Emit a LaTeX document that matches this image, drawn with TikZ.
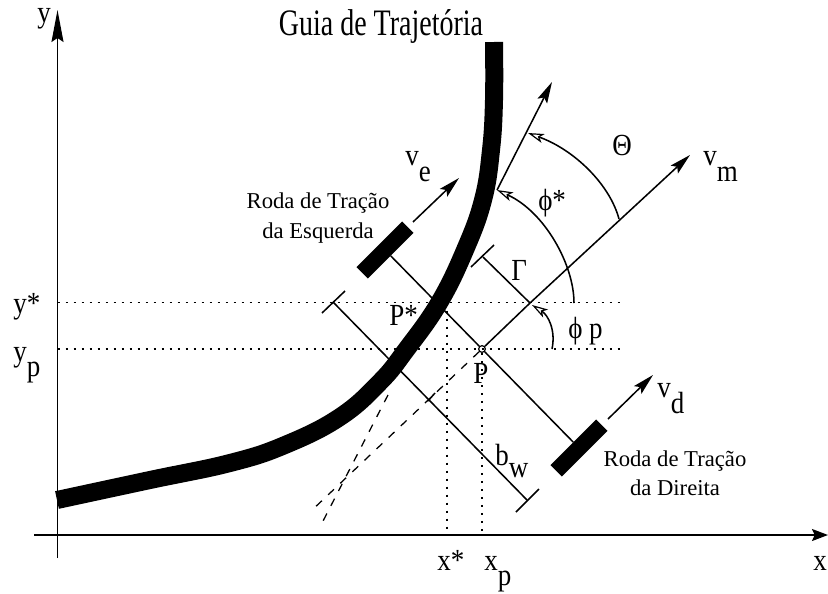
\documentclass[tikz,border=0pt]{standalone}
\usepackage{fontspec}
\setmainfont{Liberation Serif}
\newfontfamily\ttlfont[FakeStretch=0.75]{Liberation Serif}
\newfontfamily\labfont[FakeStretch=0.88]{Liberation Serif}
\usetikzlibrary{arrows.meta}
\tikzset{
  ln/.style={line width=1.15pt,black},
  dotln/.style={line width=0.9pt,black,dash pattern=on 1.5pt off 4.5pt},
  dsh/.style={line width=0.95pt,black,dash pattern=on 6pt off 6.5pt},
  bigtip/.style={-{Stealth[length=24pt,width=9pt,inset=3pt]}},
  midtip/.style={-{Stealth[length=16pt,width=8pt,inset=3pt]}},
  opentip/.style={-{Stealth[open,length=12pt,width=7pt,inset=3pt,line width=0.9pt]}},
  wheel/.style={fill=black,draw=none,rotate=45,minimum width=48.5pt,minimum height=12pt,inner sep=0pt},
  lab/.style={anchor=base west,inner sep=0pt,font=\labfont\fontsize{23}{25}\selectfont},
  captxt/.style={inner sep=0pt,align=center,font=\fontsize{17}{22}\selectfont},
}
\begin{document}
\begin{tikzpicture}[x=0.75pt,y=-0.75pt]
\useasboundingbox (0,0) rectangle (828,593);
% named points
\coordinate (yb) at (57.5,558);
\coordinate (yt) at (57.5,10);
\coordinate (xl) at (34,535);
\coordinate (xr) at (828,535);
\coordinate (ysL) at (57.5,302.5);
\coordinate (ysR) at (622,302.5);
\coordinate (ypL) at (57.5,349);
\coordinate (ypR) at (622,349);
\coordinate (xsT) at (447,302.5);
\coordinate (xsB) at (447,535);
\coordinate (xpB) at (482,535);
\coordinate (C) at (530,303);
\coordinate (vmt) at (690,155);
\coordinate (tb) at (497,190);
\coordinate (tt) at (552,82);
\coordinate (Gt) at (483,257);
\coordinate (Gta) at (471,267);
\coordinate (Gtb) at (494,245);
\coordinate (ba) at (333,302);
\coordinate (baa) at (322,313);
\coordinate (bab) at (345,291);
\coordinate (bb) at (527,500);
\coordinate (bba) at (516,512);
\coordinate (bbb) at (539,489);
\coordinate (mka) at (428,401);
\coordinate (mkb) at (435,393);
\coordinate (d1) at (310,512);
\coordinate (d2a) at (388,395);
\coordinate (d2b) at (322,523);
\coordinate (ves) at (413,222);
\coordinate (vet) at (459,178);
\coordinate (vds) at (608,419);
\coordinate (vdt) at (653,375);
\coordinate (thA) at (619,219);
\coordinate (thB) at (528,133);
\coordinate (psA) at (574,303);
\coordinate (ppA) at (552,349);
\coordinate (ppB) at (532,305);
% guide
\draw[line width=13.5pt,black,line join=round]
  plot[smooth,tension=0.7] coordinates {(57,500) (150,480) (230,463) (285,445) (340,417) (380,382) (406,350) (439,303) (465,250) (483,200) (491,150) (494,100) (494,42)};
% dotted guides
\draw[dotln] (ysL) -- (ysR);
\draw[dotln] (ypL) -- (ypR);
\draw[dotln] (xsT) -- (xsB);
% axes
\draw[ln,bigtip] (yb) -- (yt);
\draw[ln,-{Stealth[length=12pt,width=9pt,inset=2pt]}] (xl) -- (xr);
% wheels and axle
\node[wheel] (lw) at (385,250) {};
\node[wheel] (rw) at (579,448) {};
\node[circle,draw,line width=0.9pt,minimum size=5pt,inner sep=0pt] (P) at (482,349) {};
\draw[dotln] (P) -- (xpB);
\draw[ln] (lw) -- (P) -- (rw);
% main axis
\draw[ln] (P) -- (C);
\draw[ln,midtip] (C) -- (vmt);
\draw[dsh] (P) -- (d1);
% tangent
\draw[ln,midtip] (tb) -- (tt);
\draw[dsh] (d2a) -- (d2b);
% Gamma offset
\draw[ln] (C) -- (Gt);
\draw[ln] (Gta) -- (Gtb);
% b_w
\draw[ln] (ba) -- (bb);
\draw[ln] (baa) -- (bab);
\draw[ln] (bba) -- (bbb);
\draw[ln] (mka) -- (mkb);
% wheel velocities
\draw[ln,midtip] (ves) -- (vet);
\draw[ln,midtip] (vds) -- (vdt);
% angles
\draw[ln,opentip] (thA) .. controls (610,185) and (575,150) .. (thB);
\draw[ln,opentip] (psA) .. controls (574,265) and (545,212) .. (tb);
\draw[ln,opentip] (ppA) .. controls (556,330) and (548,315) .. (ppB);
% text
\node[inner sep=0pt,font=\ttlfont\fontsize{28}{30}\selectfont] (title) at (381,26) {Guia de Trajetória};
\node[captxt] (capE) at (318,218) {Roda de Tração\\da Esquerda};
\node[captxt] (capD) at (675,473) {Roda de Tração\\da Direita};
\node[lab] (ly) at (37,22) {y};
\node[lab] (lys) at (13,313) {y*};
\node[lab] (lyp) at (13,361) {y\raisebox{-11.5pt}{p}};
\node[lab] (lxs) at (437,570) {x*};
\node[lab] (lxp) at (484,570) {x\raisebox{-11.5pt}{p}};
\node[lab] (lx) at (813,570) {x};
\node[lab] (lve) at (405,165) {v\raisebox{-12.5pt}{e}};
\node[lab] (lvm) at (703,165) {v\raisebox{-12pt}{m}};
\node[lab] (lvd) at (657,397) {v\raisebox{-12pt}{d}};
\node[lab] (lth) at (612,155) {Θ};
\node[lab] (lG) at (511,280) {Γ};
\node[lab] (lpst) at (538,210) {ϕ*};
\node[lab] (lpp) at (568,338) {ϕ p};
\node[lab] (lPs) at (389,325) {P*};
\node[lab] (lP) at (473,383) {P};
\node[lab] (lb) at (495,465) {b\raisebox{-9pt}{w}};
\end{tikzpicture}
\end{document}
